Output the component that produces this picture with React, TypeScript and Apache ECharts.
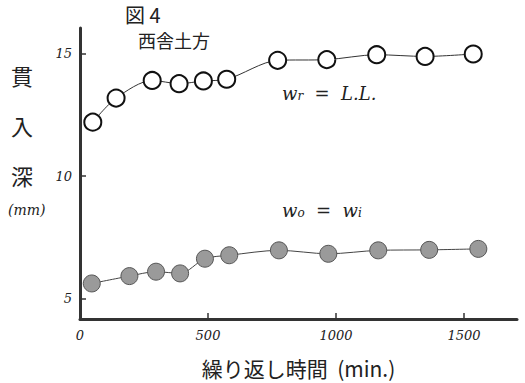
import React, { useEffect, useRef } from "react";
import * as echarts from "echarts";

// Open circles (w_r = L.L.)
const openX = [50, 141, 282, 387, 482, 573, 772, 964, 1159, 1348, 1536];
const openY = [12.2, 13.18, 13.9, 13.77, 13.88, 13.95, 14.72, 14.75, 14.95, 14.88, 14.98];
// Filled circles (w_o = w_i)
const filledX = [46, 193, 297, 391, 488, 583, 777, 970, 1165, 1364, 1556];
const filledY = [5.62, 5.92, 6.1, 6.03, 6.63, 6.77, 6.97, 6.83, 6.97, 6.99, 7.03];

const xTicks = [0, 500, 1000, 1500];
const yTicks = [5, 10, 15];

const title1 = "図 4";
const title2 = "西舎土方";
const yLabelChars = ["貫", "入", "深"];
const yUnit = "(mm)";
const xName = "繰り返し時間  (min.)";

export default function App() {
  const ref = useRef<HTMLDivElement>(null);
  useEffect(() => {
    document.body.style.margin = "0";
    if (!ref.current) return;
    const chart = echarts.init(ref.current, null, { renderer: "svg" });
    const openData = openX.map((x, i) => [x, openY[i]]);
    const filledData = filledX.map((x, i) => [x, filledY[i]]);
    const serif = "DejaVu Serif";
    const cjk = "Noto Sans CJK JP";
    chart.setOption({
      animation: false,
      backgroundColor: "#ffffff",
      grid: { left: 80, top: 28, right: 8, bottom: 60 },
      xAxis: {
        type: "value",
        min: 0,
        max: 1707,
        splitLine: { show: false },
        axisLine: { lineStyle: { color: "#333", width: 3 } },
        axisTick: { inside: true, length: 6, customValues: [500, 1000, 1500], lineStyle: { color: "#333", width: 1.5 } },
        axisLabel: {
          customValues: xTicks,
          formatter: (v: number) => String(v),
          fontFamily: serif,
          fontStyle: "italic",
          fontSize: 13,
          color: "#222",
          margin: 10,
        },
        name: xName,
        nameLocation: "middle",
        nameGap: 38,
        nameTextStyle: { fontFamily: cjk, fontSize: 21, color: "#222" },
      },
      yAxis: {
        type: "value",
        min: 4.17,
        max: 16.04,
        splitLine: { show: false },
        axisLine: { lineStyle: { color: "#333", width: 3 } },
        axisTick: { inside: true, length: 6, customValues: yTicks, lineStyle: { color: "#333", width: 1.5 } },
        axisLabel: {
          customValues: yTicks,
          formatter: (v: number) => String(v),
          fontFamily: serif,
          fontStyle: "italic",
          fontSize: 13,
          color: "#222",
          margin: 8,
        },
      },
      series: [
        {
          type: "line",
          data: openData,
          smooth: 0.3,
          symbol: "circle",
          symbolSize: 17,
          lineStyle: { color: "#333", width: 1 },
          itemStyle: { color: "#ffffff", borderColor: "#111", borderWidth: 2 },
        },
        {
          type: "line",
          data: filledData,
          smooth: 0.3,
          symbol: "circle",
          symbolSize: 17,
          lineStyle: { color: "#444", width: 1 },
          itemStyle: { color: "#9a9a9a", borderColor: "#555", borderWidth: 1 },
        },
      ],
      graphic: [
        { type: "text", left: 125, top: 4, style: { text: title1, font: `20px "${cjk}"`, fill: "#222" } },
        { type: "text", left: 138, top: 31, style: { text: title2, font: `18px "${cjk}"`, fill: "#222" } },
        ...yLabelChars.map((c, i) => ({
          type: "text",
          left: 11,
          top: 64 + i * 50,
          style: { text: c, font: `22px "${cjk}"`, fill: "#222" },
        })),
        { type: "text", left: 8, top: 203, style: { text: yUnit, font: `italic 14px ${serif}`, fill: "#222" } },
        {
          type: "text",
          left: 282,
          top: 84,
          style: {
            text: "{a|w}{s|r}  =  L.L.",
            rich: {
              a: { font: `italic 18px ${serif}`, fill: "#222" },
              s: { font: `italic 12px ${serif}`, fill: "#222", verticalAlign: "bottom" },
            },
            font: `italic 18px ${serif}`,
            fill: "#222",
          },
        },
        {
          type: "text",
          left: 282,
          top: 201,
          style: {
            text: "{a|w}{s|o}  =  {a|w}{s|i}",
            rich: {
              a: { font: `italic 18px ${serif}`, fill: "#222" },
              s: { font: `italic 12px ${serif}`, fill: "#222", verticalAlign: "bottom" },
            },
            font: `italic 18px ${serif}`,
            fill: "#222",
          },
        },
      ],
    });
    return () => chart.dispose();
  }, []);
  return <div ref={ref} style={{ width: 525, height: 383 }} />;
}
